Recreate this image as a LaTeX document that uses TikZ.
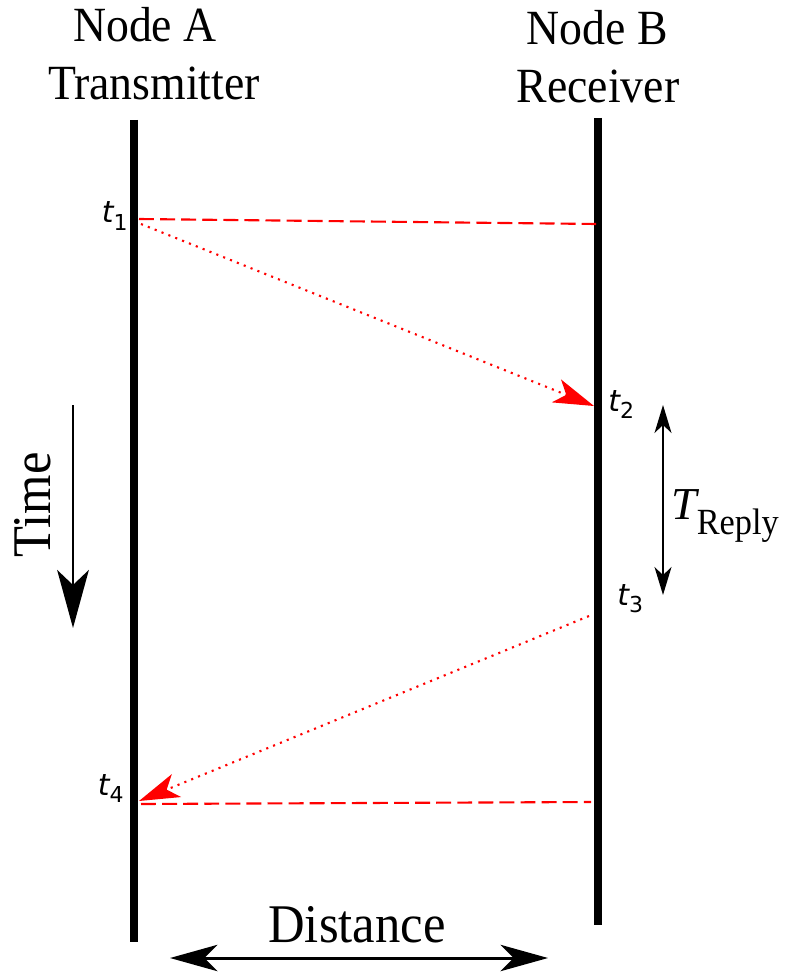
\documentclass[tikz,border=0pt]{standalone}
\usepackage{fontspec}
\setmainfont{Liberation Serif}
\newfontfamily\ticksans{DejaVu Sans}
\usetikzlibrary{arrows.meta,positioning}
\newcommand{\narrow}[1]{\scalebox{0.93}[1]{#1}}
\newcommand{\tstamp}[1]{{\ticksans\fontsize{17}{17}\selectfont\itshape t\lower4.5pt\hbox{\upshape\fontsize{12.5}{12.5}\selectfont #1}}}

\begin{document}
\begin{tikzpicture}[x=0.02cm, y=-0.02cm,
  title/.style={font=\fontsize{28}{33}\selectfont, inner sep=0pt, anchor=base},
  big/.style={font=\fontsize{31}{33}\selectfont, inner sep=0pt, anchor=base},
  stamp/.style={inner sep=0pt},
  bar/.style={line width=4.6pt},
  msg/.style={red, line width=1.2pt, dash pattern=on 8.5pt off 3.5pt},
  sig/.style={red, line width=1.2pt, dash pattern=on 1.2pt off 3pt,
              -{Stealth[length=23pt, width=14pt, inset=6pt]}},
  timeline/.style={line width=1.7pt, -{Stealth[length=33pt, width=18pt, inset=8.5pt]}},
  span/.style={line width=1.7pt, {Stealth[length=27pt, width=15pt, inset=7.5pt]}-{Stealth[length=27pt, width=15pt, inset=7.5pt]}},
  reply/.style={line width=0.9pt, {Stealth[length=16pt, width=9.7pt, inset=4.7pt]}-{Stealth[length=16pt, width=9.7pt, inset=4.7pt]}}]
  \useasboundingbox (0,0) rectangle (787,976);

  \node[title] (nameA) at (145,42) {\narrow{Node A}};
  \node[title] (roleA) at (154,100) {\narrow{Transmitter}};
  \node[title] (nameB) at (597,45) {\narrow{Node B}};
  \node[title] (roleB) at (598,103) {\narrow{Receiver}};

  \coordinate (Atop) at (134,120);
  \coordinate (Abot) at (134,942);
  \coordinate (Btop) at (598,118);
  \coordinate (Bbot) at (598,925);
  \draw[bar] (Atop) -- (Abot);
  \draw[bar] (Btop) -- (Bbot);

  \coordinate (a1) at (139,219);
  \coordinate (a1s) at (141,224);
  \coordinate (b1) at (596,224);
  \coordinate (b2) at (594,406);
  \coordinate (b3) at (589,616);
  \coordinate (a4) at (139,801);
  \coordinate (a4d) at (141,804);
  \coordinate (b4) at (591,802);
  \draw[msg] (a1) -- (b1);
  \draw[sig] (a1s) -- (b2);
  \draw[sig] (b3) -- (a4);
  \draw[msg] (a4d) -- (b4);

  \node[stamp, anchor=base east] (t1) at (128,223) {\tstamp{1}};
  \node[stamp, anchor=base west] (t2) at (608,411) {\tstamp{2}};
  \node[stamp, anchor=base west] (t3) at (617,605) {\tstamp{3}};
  \node[stamp, anchor=base east] (t4) at (124,795) {\tstamp{4}};

  \coordinate (r2) at (663,405);
  \coordinate (r3) at (663,595);
  \draw[reply] (r2) -- (r3);
  \node[stamp, anchor=base west] (treply) at (671,519)
    {\fontsize{26}{26}\selectfont\itshape T\lower9pt\hbox{\upshape\narrow{\fontsize{21}{21}\selectfont Reply}}};

  \coordinate (time0) at (73,405);
  \coordinate (time1) at (73,628);
  \draw[timeline] (time0) -- (time1);
  \node[big, anchor=center, rotate=90] (time) at (33,505) {\narrow{Time}};

  \coordinate (d0) at (170,958);
  \coordinate (d1) at (548,958);
  \draw[span] (d0) -- (d1);
  \node[big] (dist) at (357,942) {\narrow{Distance}};
\end{tikzpicture}
\end{document}
